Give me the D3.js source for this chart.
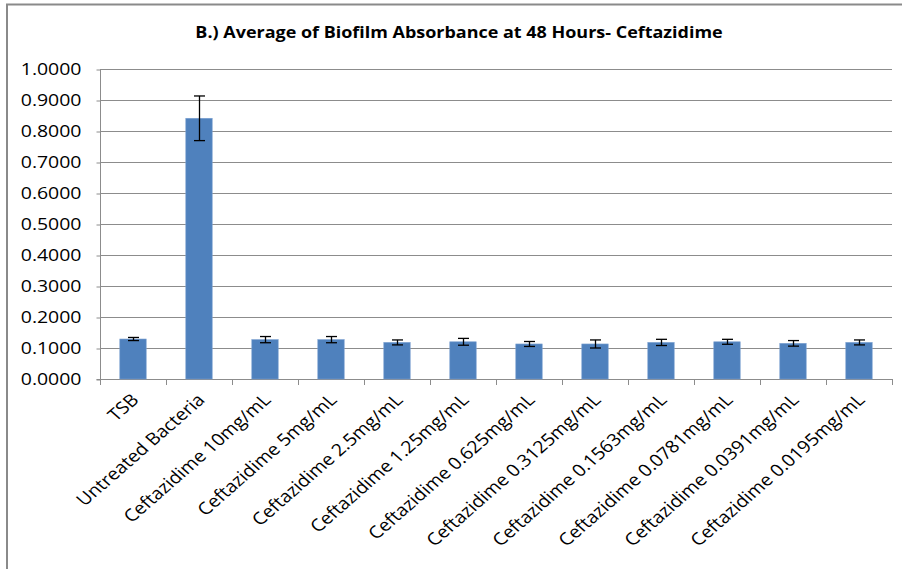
<!DOCTYPE html>
<html>
<head>
<meta charset="utf-8">
<script src="https://cdn.jsdelivr.net/npm/d3@7"></script>
<style>
  html, body { margin: 0; padding: 0; background: #fff; }
  svg { display: block; }
  text { font-family: "Open Sans", "DejaVu Sans", sans-serif; fill: #000; }
</style>
</head>
<body>
<svg id="chart" width="902" height="569"></svg>
<script>
// Biofilm absorbance (mean ± error) at 48 hours, by treatment
const categories = [
  "TSB", "Untreated Bacteria", "Ceftazidime 10mg/mL", "Ceftazidime 5mg/mL",
  "Ceftazidime 2.5mg/mL", "Ceftazidime 1.25mg/mL", "Ceftazidime 0.625mg/mL",
  "Ceftazidime 0.3125mg/mL", "Ceftazidime 0.1563mg/mL", "Ceftazidime 0.0781mg/mL",
  "Ceftazidime 0.0391mg/mL", "Ceftazidime 0.0195mg/mL"
];
const means  = [0.129, 0.841, 0.127, 0.127, 0.118, 0.120, 0.113, 0.113, 0.118, 0.120, 0.115, 0.118];
const errors = [0.005, 0.072, 0.010, 0.010, 0.008, 0.011, 0.008, 0.013, 0.010, 0.008, 0.009, 0.008];
const yTicks = [0, 0.1, 0.2, 0.3, 0.4, 0.5, 0.6, 0.7, 0.8, 0.9, 1.0];
const titleText = "B.) Average of Biofilm Absorbance at 48 Hours- Ceftazidime";

const svg = d3.select("#chart");
const W = 902, H = 569;
const plot = { left: 100, right: 892, top: 69, bottom: 379 };
const stretch = 1.145; // horizontal widening applied to all lettering

// outer chart frame
svg.append("rect")
  .attr("x", 7).attr("y", 4.5)
  .attr("width", W + 20).attr("height", H + 20)
  .attr("fill", "none").attr("stroke", "#8a8a8a").attr("stroke-width", 2);

const x = d3.scaleBand().domain(categories)
  .range([plot.left, plot.right]).paddingInner(0.6).paddingOuter(0.3);
const xBand = d3.scaleBand().domain(categories)
  .range([plot.left, plot.right]).padding(0);
const y = d3.scaleLinear().domain([0, 1]).range([plot.bottom, plot.top]);

// title
svg.append("text")
  .attr("transform", `translate(459,38) scale(${stretch},1)`)
  .attr("text-anchor", "middle")
  .style("font-weight", "bold").style("font-size", "15.7px")
  .text(titleText);

// horizontal gridlines
svg.append("g").selectAll("line").data(yTicks.filter(d => d > 0)).join("line")
  .attr("x1", plot.left).attr("x2", plot.right)
  .attr("y1", d => Math.round(y(d)) + 0.5).attr("y2", d => Math.round(y(d)) + 0.5)
  .attr("stroke", "#8c8c8c").attr("stroke-width", 1);

// y axis
const yAxis = d3.axisLeft(y).tickValues(yTicks).tickSize(4).tickPadding(0)
  .tickFormat(d3.format(".4f"));
const gy = svg.append("g").attr("transform", `translate(${plot.left + 0.5},0.5)`).call(yAxis);
gy.select(".domain").attr("stroke", "#8c8c8c").attr("d", `M-4,${plot.bottom}H0V${plot.top}`);
gy.selectAll(".tick line").attr("stroke", "#8c8c8c");
gy.selectAll(".tick text")
  .attr("x", null)
  .attr("transform", `translate(-19,0) scale(${stretch},1)`)
  .style("font-size", "17px").style("font-family", "\"Open Sans\", sans-serif")
  .attr("fill", "#000");

// x axis line and category boundary ticks
const gx = svg.append("g");
gx.append("line")
  .attr("x1", plot.left).attr("x2", plot.right)
  .attr("y1", plot.bottom + 0.5).attr("y2", plot.bottom + 0.5)
  .attr("stroke", "#8c8c8c");
const boundaries = categories.map(c => xBand(c)).concat([plot.right]);
gx.selectAll("line.tk").data(boundaries).join("line").attr("class", "tk")
  .attr("x1", d => Math.round(d) + 0.5).attr("x2", d => Math.round(d) + 0.5)
  .attr("y1", plot.bottom).attr("y2", plot.bottom + 6)
  .attr("stroke", "#8c8c8c");

// bars
svg.append("g").selectAll("rect").data(categories).join("rect")
  .attr("x", c => x(c))
  .attr("width", x.bandwidth())
  .attr("y", (c, i) => y(means[i]))
  .attr("height", (c, i) => y(0) - y(means[i]))
  .attr("fill", "#4f81bd")
  .attr("stroke", "#7a9fd0").attr("stroke-width", 0.6);

// error bars
const eb = svg.append("g").attr("stroke", "#000").attr("stroke-width", 1.3);
categories.forEach((c, i) => {
  const cx = Math.round(x(c) + x.bandwidth() / 2) + 0.5;
  const hi = y(means[i] + errors[i]), lo = y(means[i] - errors[i]);
  eb.append("line").attr("x1", cx).attr("x2", cx).attr("y1", hi).attr("y2", lo);
  eb.append("line").attr("x1", cx - 5.5).attr("x2", cx + 5.5).attr("y1", hi).attr("y2", hi);
  eb.append("line").attr("x1", cx - 5.5).attr("x2", cx + 5.5).attr("y1", lo).attr("y2", lo);
});

// rotated category labels
svg.append("g").selectAll("text").data(categories).join("text")
  .attr("transform", c => `translate(${xBand(c) + xBand.bandwidth() / 2 + 7},${plot.bottom + 22}) scale(${stretch},1) rotate(-45)`)
  .attr("text-anchor", "end")
  .style("font-size", "17px")
  .text(c => c);
</script>
</body>
</html>
